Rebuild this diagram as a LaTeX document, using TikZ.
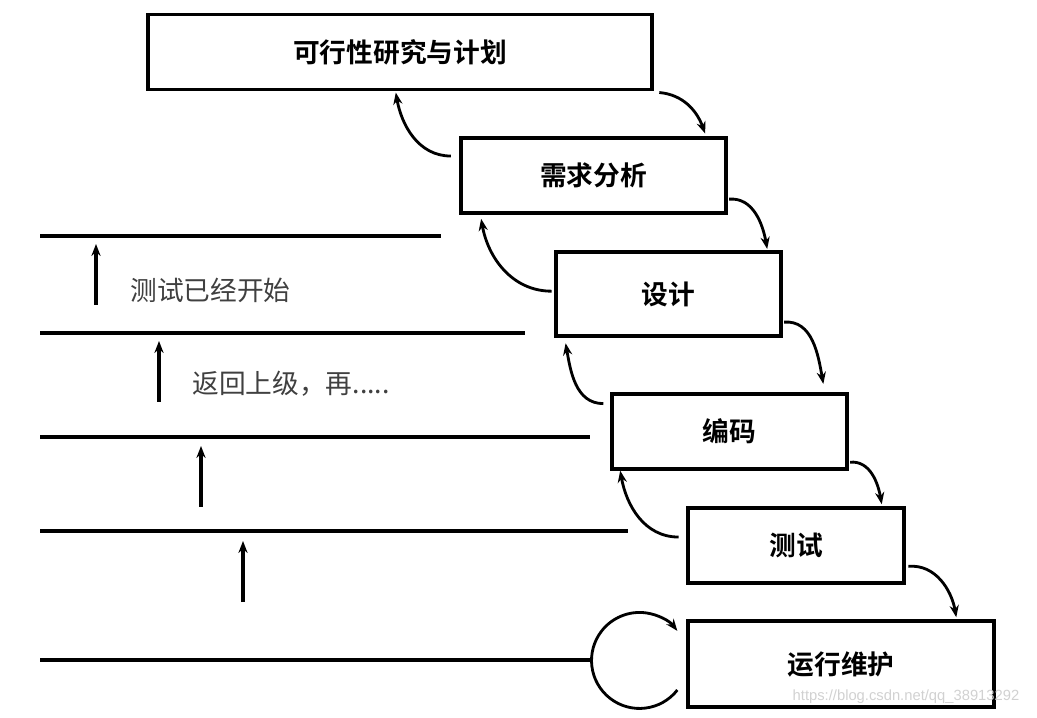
\documentclass[tikz,border=0pt]{standalone}
\usepackage{fontspec}
\setmainfont{Noto Sans CJK SC}[BoldFont={Noto Sans CJK SC Bold}]
\newfontfamily\urlfont{Liberation Sans}
\usetikzlibrary{calc, arrows.meta}

\begin{document}
\begin{tikzpicture}[
    x=0.025cm, y=0.025cm,
    stage/.style={
      draw,
      rectangle,
      line width=2.3pt,
      inner sep=0pt,
      minimum height=1.875cm,
      font=\fontsize{19pt}{22pt}\selectfont\bfseries
    },
    flow/.style={draw, -{Stealth[length=8.5pt,width=6.5pt]}, line width=2pt},
    level/.style={line width=2.8pt},
    note/.style={font=\fontsize{19pt}{22pt}\selectfont, text=black!75, anchor=west, inner sep=0pt}
  ]
    \useasboundingbox (0,0) rectangle (1037,717);

    % stages of the waterfall
    \node (plan) [stage, minimum width=12.6cm] at (400,665) {可行性研究与计划};
    \node (req) [stage, minimum width=6.625cm] at (593.5,541.5) {需求分析};
    \node (design) [stage, minimum width=5.625cm, minimum height=2.1cm] at (668.5,423) {设计};
    \node (code) [stage, minimum width=5.875cm] at (729.5,285.5) {编码};
    \node (test) [stage, minimum width=5.4cm] at (796,171.5) {测试};
    \node (run) [stage, minimum width=7.65cm, minimum height=2.15cm] at (841,53) {运行维护};

    % forward flow
    \draw[flow] ([xshift=4pt,yshift=-1pt]plan.south east) to[out=-5,in=110] ([xshift=-16pt,yshift=2pt]req.north east);
    \draw[flow] ([xshift=1pt,yshift=11pt]req.south east) to[out=5,in=100] ([xshift=-11pt,yshift=1pt]design.north east);
    \draw[flow] ([xshift=1pt,yshift=11pt]design.south east) to[out=5,in=100] ([xshift=-18pt,yshift=6pt]code.north east);
    \draw[flow] ([xshift=1pt,yshift=6pt]code.south east) to[out=5,in=100] ([xshift=-17pt,yshift=1.5pt]test.north east);
    \draw[flow] ([xshift=2pt,yshift=13pt]test.south east) to[out=5,in=100] ([xshift=-28pt,yshift=1.5pt]run.north east);

    % going back up
    \draw[flow] ([xshift=-6pt,yshift=-14pt]req.north west) to[out=180,in=-80] ([xshift=-3pt,yshift=-1pt]plan.south);
    \draw[flow] ([xshift=-2pt,yshift=2pt]design.west) to[out=180,in=-80] ([xshift=15.5pt,yshift=-3pt]req.south west);
    \draw[flow] ([xshift=-5pt,yshift=-8pt]code.north west) to[out=180,in=-80] ([xshift=8pt,yshift=-4pt]design.south west);
    \draw[flow] ([xshift=-5.5pt,yshift=6pt]test.west) to[out=180,in=-80] ([xshift=7pt,yshift=0pt]code.south west);

    % loop at the last stage
    \coordinate (loopstart) at ($(run.west)+(-9,-26)$);
    \draw[flow] (loopstart) arc[start angle=-38, end angle=-322, radius=48];

    % levels on the left
    \foreach \y/\xend in {481/441, 384/525, 280/590, 186/628, 57/593}
      \draw[level] (40,\y) -- (\xend,\y);
    \foreach \x/\ybot in {96/412, 159/315, 201/210, 243/115}
      \draw[flow, line width=2.2pt] (\x,\ybot) -- ++(0,61);

    \node (started) [note] at (130,427) {测试已经开始};
    \node (back) [note] at (192,333) {返回上级，再.....};

    \node (mark) [font=\urlfont\fontsize{10.5pt}{12pt}\selectfont, text=black!18, inner sep=0pt] at (906,20) {https://blog.csdn.net/qq\_38913292};
  \end{tikzpicture}
\end{document}
